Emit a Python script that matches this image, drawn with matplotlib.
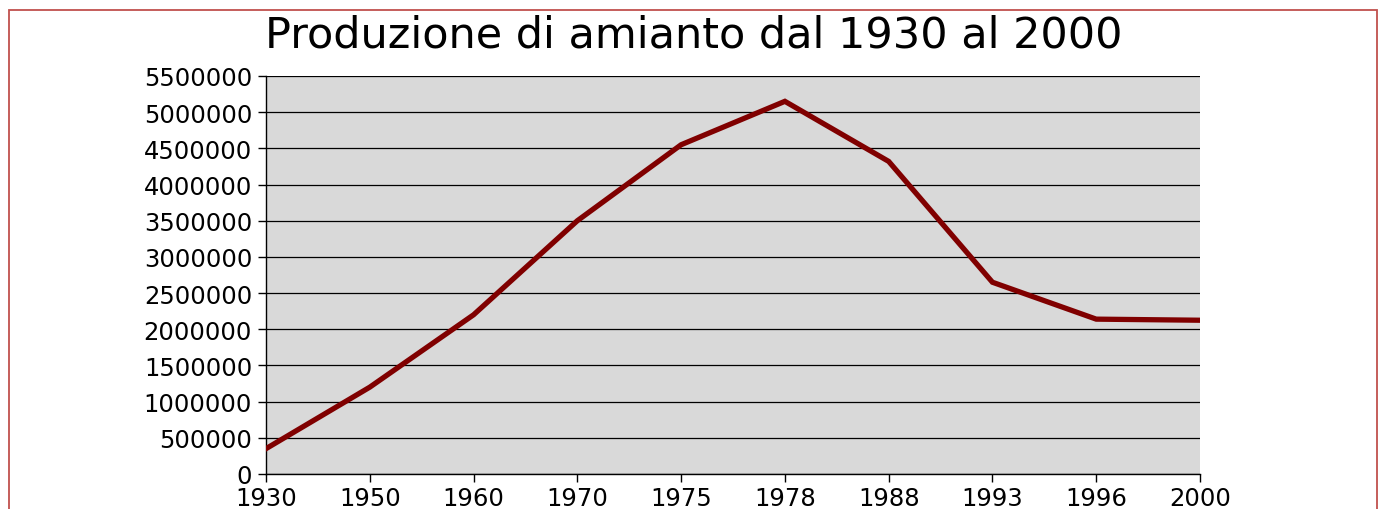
import matplotlib
matplotlib.use("Agg")
import matplotlib.pyplot as plt
from matplotlib.patches import Rectangle
from matplotlib.ticker import MultipleLocator, FuncFormatter

years = ["1930", "1950", "1960", "1970", "1975", "1978", "1988", "1993", "1996", "2000"]
production = [350000, 1200000, 2200000, 3500000, 4550000, 5150000, 4320000, 2650000, 2140000, 2125000]

plt.rcParams['font.family'] = ['DejaVu Sans']

W, H = 1382, 510
fig = plt.figure(figsize=(W / 100, H / 100), dpi=100)
fig.patch.set_facecolor('white')

# red frame
fig.patches.append(Rectangle((9 / W, -0.1), (1377 - 9) / W, 1.1 - 11 / H,
                             transform=fig.transFigure, fill=False,
                             edgecolor='#c0504d', linewidth=1.3, zorder=0))

ax = fig.add_axes([266 / W, 1 - 475 / H, (1200 - 266) / W, (475 - 77) / H])
ax.set_facecolor('#d9d9d9')

x = list(range(len(years)))
ax.plot(x, production, color='#800000', linewidth=3.8, solid_joinstyle='miter', zorder=3)

ax.set_xlim(0, len(years) - 1)
ax.set_ylim(0, 5500000)
ax.set_xticks(x)
ax.set_xticklabels(years)
ax.yaxis.set_major_locator(MultipleLocator(500000))
ax.yaxis.set_major_formatter(FuncFormatter(lambda v, p: f"{int(round(v))}"))

ax.grid(axis='y', color='black', linewidth=0.9)
ax.set_axisbelow(True)
for s in ['top', 'right']:
    ax.spines[s].set_visible(False)
for s in ['left', 'bottom']:
    ax.spines[s].set_color('black')
    ax.spines[s].set_linewidth(1.0)

ax.tick_params(axis='both', direction='out', length=6, width=1, colors='black',
               labelsize=17.5)
ax.tick_params(axis='y', pad=4)
ax.tick_params(axis='x', pad=3)

fig.text(0.5 * (263 + 1125) / W, 1 - 36 / H, "Produzione di amianto dal 1930 al 2000",
         ha='center', va='center', fontsize=31, color='black')

fig.savefig("out.png", dpi=100)
